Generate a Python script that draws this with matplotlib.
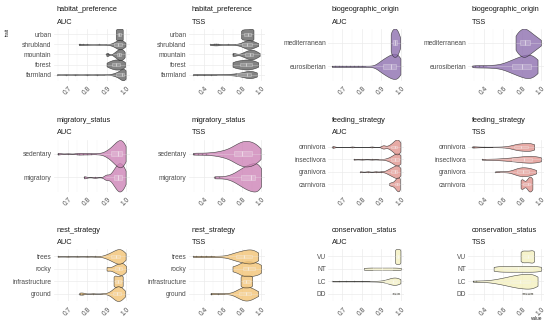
import numpy as np
import matplotlib
matplotlib.use("Agg")
import matplotlib.pyplot as plt
from matplotlib.colors import to_rgba

# -------------------------------------------------------------------------
# Data: per panel, category -> (values, counts)
# -------------------------------------------------------------------------
HABITAT_AUC = {
    "urban":     ([0.948, 0.957, 0.966, 0.975, 0.983], [7, 7, 7, 7, 7]),
    "shrubland": ([0.757, 0.765, 0.78, 0.80, 0.86, 0.90, 0.92, 0.93, 0.94, 0.95, 0.96, 0.97, 0.98, 0.99, 0.997],
                  [1, 1, 1, 1, 1, 1, 1, 2, 3, 5, 7, 8, 7, 4, 1]),
    "mountain":  ([0.899, 0.907, 0.935, 0.945, 0.955, 0.965, 0.975, 0.985, 0.993],
                  [2, 2, 2, 4, 6, 8, 8, 6, 3]),
    "forest":    ([0.90, 0.91, 0.92, 0.93, 0.94, 0.95, 0.96, 0.97, 0.98, 0.99, 0.995],
                  [3, 4, 5, 6, 7, 7, 7, 7, 6, 4, 2]),
    "farmland":  ([0.645, 0.69, 0.74, 0.80, 0.85, 0.89, 0.92, 0.93, 0.94, 0.95, 0.96, 0.97, 0.98, 0.99, 0.998],
                  [1, 1, 1, 1, 1, 1, 1, 1, 2, 3, 4, 6, 9, 10, 6]),
}
HABITAT_TSS = {
    "urban":     ([0.79, 0.81, 0.83, 0.85, 0.87, 0.89, 0.905, 0.92], [4, 4, 4, 4, 4, 4, 4, 4]),
    "shrubland": ([0.464, 0.51, 0.53, 0.55, 0.65, 0.74, 0.78, 0.80, 0.825, 0.85, 0.875, 0.90, 0.925, 0.95, 0.97],
                  [1, 1, 1, 1, 1, 1, 1, 2, 3, 5, 5, 4, 3, 2, 1]),
    "mountain":  ([0.70, 0.715, 0.73, 0.79, 0.81, 0.835, 0.86, 0.885, 0.91, 0.935, 0.96, 0.985],
                  [2, 1, 1, 1, 2, 3, 4, 5, 5, 4, 3, 1]),
    "forest":    ([0.70, 0.725, 0.75, 0.775, 0.80, 0.825, 0.85, 0.875, 0.90, 0.925, 0.95, 0.97],
                  [3, 3, 4, 4, 4, 5, 5, 5, 4, 4, 3, 2]),
    "farmland":  ([0.285, 0.33, 0.40, 0.47, 0.54, 0.60, 0.65, 0.70, 0.73, 0.76, 0.79, 0.82, 0.85, 0.88, 0.91, 0.94, 0.955],
                  [1, 1, 1, 1, 1, 1, 1, 1, 1, 2, 2, 3, 4, 6, 5, 3, 1]),
}
BIOGEO_AUC = {
    "mediterranean": ([0.948, 0.955, 0.962, 0.969, 0.976, 0.983, 0.99, 0.997],
                      [6, 7, 8, 8, 8, 7, 5, 3]),
    "eurosiberian":  ([0.645, 0.66, 0.68, 0.70, 0.72, 0.74, 0.76, 0.78, 0.80, 0.82, 0.84, 0.86,
                       0.88, 0.89, 0.90, 0.91, 0.92, 0.93, 0.94, 0.95, 0.96, 0.97, 0.98, 0.99, 0.998],
                      [1, 1, 1, 1, 1, 1, 1, 1, 1, 1, 1, 1,
                       3, 4, 5, 6, 7, 8, 9, 10, 10, 11, 11, 10, 8]),
}
BIOGEO_TSS = {
    "mediterranean": ([0.734, 0.76, 0.785, 0.81, 0.835, 0.86, 0.885, 0.91, 0.935, 0.96, 0.985, 1.0],
                      [5, 6, 7, 8, 8, 7, 6, 5, 4, 3, 2, 1]),
    "eurosiberian":  ([0.28, 0.31, 0.35, 0.39, 0.43, 0.47, 0.50, 0.53, 0.56, 0.59, 0.62, 0.65,
                       0.675, 0.70, 0.725, 0.75, 0.775, 0.80, 0.825, 0.85, 0.875, 0.90, 0.925, 0.95, 0.965],
                      [1, 1, 1, 1, 1, 1, 1, 1, 1, 2, 2, 3,
                       3, 4, 4, 5, 5, 6, 6, 7, 7, 7, 6, 5, 4]),
}
MIGRATORY_AUC = {
    "sedentary": ([0.648, 0.652, 0.70, 0.75, 0.76, 0.78, 0.80, 0.82, 0.85, 0.87,
                   0.89, 0.90, 0.91, 0.92, 0.93, 0.94, 0.95, 0.96, 0.97, 0.98, 0.99, 0.998],
                  [1, 1, 1, 1, 1, 1, 1, 1, 1, 1,
                   2, 2, 3, 4, 5, 7, 8, 9, 10, 10, 8, 5]),
    "migratory": ([0.784, 0.786, 0.84, 0.895, 0.90, 0.905, 0.92, 0.93, 0.94, 0.95, 0.96, 0.97, 0.98, 0.99, 0.998],
                  [1, 1, 1, 2, 2, 1, 2, 4, 6, 8, 10, 10, 9, 7, 4]),
}
MIGRATORY_TSS = {
    "sedentary": ([0.285, 0.30, 0.34, 0.38, 0.42, 0.45, 0.475, 0.50, 0.525, 0.55, 0.575, 0.60, 0.625,
                   0.65, 0.675, 0.70, 0.725, 0.75, 0.775, 0.80, 0.825, 0.85, 0.875, 0.90, 0.925,
                   0.95, 0.975, 0.995],
                  [1, 1, 1, 1, 1, 1, 1, 1, 1, 2, 2, 2, 3,
                   3, 4, 5, 6, 7, 8, 9, 9, 9, 9, 8, 8,
                   7, 6, 3]),
    "migratory": ([0.51, 0.515, 0.56, 0.60, 0.63, 0.66, 0.69, 0.715, 0.74, 0.765, 0.79, 0.815, 0.84,
                   0.865, 0.89, 0.915, 0.94, 0.965, 0.985, 1.0],
                  [1, 1, 1, 1, 1, 2, 2, 3, 4, 5, 6, 7, 8, 9, 9, 10, 10, 9, 8, 6]),
}
FEEDING_AUC = {
    "omnivora":    ([0.648, 0.652, 0.75, 0.85, 0.905, 0.91, 0.915, 0.93, 0.94, 0.95, 0.96, 0.97, 0.98, 0.99, 0.998],
                    [1, 1, 1, 1, 1, 2, 1, 1, 2, 3, 5, 7, 8, 7, 4]),
    "insectivora": ([0.757, 0.80, 0.85, 0.89, 0.92, 0.93, 0.94, 0.95, 0.96, 0.97, 0.98, 0.99, 0.998],
                    [1, 1, 1, 1, 1, 1, 2, 3, 4, 6, 7, 7, 4]),
    "granivora":   ([0.79, 0.83, 0.87, 0.90, 0.92, 0.93, 0.94, 0.95, 0.96, 0.97, 0.98, 0.99, 0.998],
                    [1, 1, 1, 1, 1, 2, 3, 4, 5, 6, 7, 6, 3]),
    "carnivora":   ([0.94, 0.95, 0.96, 0.97, 0.98, 0.99, 0.995], [1, 2, 2, 4, 7, 7, 3]),
}
FEEDING_TSS = {
    "omnivora":    ([0.28, 0.29, 0.30, 0.40, 0.50, 0.58, 0.63, 0.66, 0.69, 0.72, 0.745, 0.77, 0.795,
                     0.82, 0.845, 0.87, 0.895, 0.92, 0.93],
                    [1, 1, 1, 1, 1, 1, 1, 1, 2, 3, 4, 4, 4, 4, 4, 5, 5, 4, 2]),
    "insectivora": ([0.38, 0.42, 0.46, 0.50, 0.54, 0.58, 0.62, 0.66, 0.70, 0.74, 0.78, 0.82, 0.86,
                     0.90, 0.94, 0.97, 1.0],
                    [1, 1, 1, 1, 1, 2, 2, 3, 3, 4, 5, 6, 6, 6, 6, 5, 3]),
    "granivora":   ([0.52, 0.57, 0.62, 0.66, 0.70, 0.725, 0.75, 0.775, 0.80, 0.825, 0.85, 0.875,
                     0.90, 0.925, 0.95],
                    [1, 1, 1, 1, 2, 3, 4, 5, 5, 5, 5, 4, 4, 3, 2]),
    "carnivora":   ([0.787, 0.795, 0.805, 0.815, 0.83, 0.85, 0.865, 0.875, 0.89, 0.905, 0.911],
                    [3, 3, 3, 2, 1, 2, 4, 5, 5, 4, 3]),
}
NEST_AUC = {
    "trees":          ([0.648, 0.70, 0.75, 0.80, 0.84, 0.87, 0.89, 0.90, 0.91, 0.92, 0.93, 0.94, 0.95,
                        0.96, 0.97, 0.98, 0.99, 0.998],
                       [1, 1, 1, 1, 1, 1, 2, 2, 3, 4, 5, 6, 7, 8, 8, 7, 5, 3]),
    "rocky":          ([0.90, 0.905, 0.91, 0.925, 0.935, 0.945, 0.955, 0.965, 0.975, 0.985, 0.995, 1.0],
                       [2, 2, 1, 2, 3, 4, 5, 6, 7, 6, 4, 1]),
    "infrastructure": ([0.936, 0.944, 0.952, 0.96, 0.968, 0.976, 0.983], [5, 5, 4, 4, 4, 5, 5]),
    "ground":         ([0.76, 0.765, 0.775, 0.78, 0.83, 0.88, 0.905, 0.915, 0.925, 0.935, 0.945, 0.955,
                        0.965, 0.975, 0.985, 0.995],
                       [1, 1, 1, 1, 1, 1, 1, 2, 3, 5, 7, 8, 8, 7, 5, 3]),
}
NEST_TSS = {
    "trees":          ([0.285, 0.32, 0.37, 0.42, 0.47, 0.52, 0.57, 0.61, 0.65, 0.675, 0.70, 0.725, 0.75,
                        0.775, 0.80, 0.825, 0.85, 0.875, 0.90, 0.925, 0.95, 0.97],
                       [1, 1, 1, 1, 1, 1, 1, 1, 1, 2, 3, 3, 4, 4, 5, 5, 6, 6, 6, 6, 5, 3]),
    "rocky":          ([0.70, 0.715, 0.73, 0.76, 0.785, 0.81, 0.835, 0.86, 0.885, 0.91, 0.935, 0.96, 0.985, 1.0],
                       [3, 2, 1, 4, 5, 6, 6, 6, 6, 6, 5, 5, 4, 3]),
    "infrastructure": ([0.785, 0.805, 0.825, 0.845, 0.865, 0.885, 0.907], [4, 4, 4, 4, 4, 4, 4]),
    "ground":         ([0.47, 0.475, 0.55, 0.62, 0.68, 0.72, 0.745, 0.77, 0.795, 0.82, 0.845, 0.87,
                        0.895, 0.92, 0.945, 0.97],
                       [1, 1, 1, 1, 1, 2, 3, 4, 5, 6, 6, 6, 5, 4, 3, 2]),
}
CONSERV_AUC = {
    "VU": ([0.97, 0.977, 0.984, 0.991, 0.998], [6, 6, 6, 6, 6]),
    "NT": ([0.81, 0.837, 0.864, 0.891, 0.919, 0.946, 0.973, 1.0], [4, 4, 4, 4, 4, 4, 4, 4]),
    "LC": ([0.648, 0.68, 0.72, 0.76, 0.80, 0.84, 0.87, 0.89, 0.91, 0.92, 0.93, 0.94, 0.95, 0.96,
            0.97, 0.98, 0.99, 0.998],
           [1, 1, 1, 1, 1, 1, 1, 1, 1, 2, 2, 3, 4, 5, 5, 5, 4, 2]),
    "DD": ([0.957, 0.991], [1, 1]),
}
CONSERV_TSS = {
    "VU": ([0.787, 0.81, 0.835, 0.86, 0.885, 0.91, 0.929], [5, 5, 5, 5, 5, 5, 5]),
    "NT": ([0.504, 0.555, 0.605, 0.655, 0.705, 0.755, 0.805, 0.855, 0.905, 0.955, 1.0],
           [5, 5, 5, 5, 5, 5, 5, 5, 5, 5, 5]),
    "LC": ([0.285, 0.32, 0.36, 0.40, 0.44, 0.47, 0.50, 0.53, 0.56, 0.59, 0.62, 0.65, 0.68, 0.71,
            0.74, 0.77, 0.80, 0.83, 0.86, 0.89, 0.92, 0.945, 0.965],
           [1, 1, 1, 1, 1, 1, 2, 2, 3, 3, 4, 5, 5, 6, 7, 7, 7, 8, 8, 8, 7, 7, 5]),
    "DD": ([0.805, 0.911], [1, 1]),
}

AUC_TICKS = [0.7, 0.8, 0.9, 1.0]
TSS_TICKS = [0.4, 0.6, 0.8, 1.0]

COLORS = {
    "habitat_preference":   "#646464",
    "biogeographic_origin": "#8e6fb0",
    "migratory_status":     "#cd83b7",
    "feeding_strategy":     "#e2958f",
    "nest_strategy":        "#f3c374",
    "conservation_status":  "#f4f0be",
}

PANELS = [
    ("habitat_preference", "AUC", HABITAT_AUC), ("habitat_preference", "TSS", HABITAT_TSS),
    ("biogeographic_origin", "AUC", BIOGEO_AUC), ("biogeographic_origin", "TSS", BIOGEO_TSS),
    ("migratory_status", "AUC", MIGRATORY_AUC), ("migratory_status", "TSS", MIGRATORY_TSS),
    ("feeding_strategy", "AUC", FEEDING_AUC), ("feeding_strategy", "TSS", FEEDING_TSS),
    ("nest_strategy", "AUC", NEST_AUC), ("nest_strategy", "TSS", NEST_TSS),
    ("conservation_status", "AUC", CONSERV_AUC), ("conservation_status", "TSS", CONSERV_TSS),
]

# -------------------------------------------------------------------------
# Layout (pixels)
# -------------------------------------------------------------------------
W_PX, H_PX = 550, 327
COL_LEFT = [53.5, 188.5, 328.3, 468.3]
ROW_TOP = [28.5, 139.5, 249.0]
PANEL_W, PANEL_H = 76.0, 52.0
HALF = 0.6       # max violin half-width (category units)
BOX_W = 0.22

plt.rcParams["font.family"] = ["Liberation Sans", "DejaVu Sans"]


def nrd0(x):
    sd = np.std(x, ddof=1)
    q75, q25 = np.percentile(x, [75, 25])
    lo = min(sd, (q75 - q25) / 1.34)
    if lo <= 0:
        lo = sd if sd > 0 else 0.01
    return 0.9 * lo * len(x) ** -0.2


def kde(vals, counts):
    x = np.repeat(np.asarray(vals, float), counts)
    bw = nrd0(x)
    grid = np.linspace(x.min(), x.max(), 300)
    z = (grid[:, None] - x[None, :]) / bw
    dens = np.exp(-0.5 * z ** 2).sum(axis=1) / (len(x) * bw * np.sqrt(2 * np.pi))
    return x, grid, dens


def draw_panel(ax, data, color, metric):
    cats = sorted(data)
    prof = [kde(*data[c]) for c in cats]
    # width scaled by count x density, largest one in the panel gets HALF
    peak = max(len(x) * d.max() for x, g, d in prof)
    face = to_rgba(color, 0.8)
    for i, (x, g, d) in enumerate(prof, start=1):
        w = len(x) * d / peak * HALF
        ax.fill_between(g, i - w, i + w, facecolor=face,
                        edgecolor=(0.15, 0.15, 0.15, 0.85), lw=0.4, zorder=2)
        ax.boxplot(x, positions=[i], orientation="horizontal", widths=BOX_W,
                   patch_artist=True, showcaps=False, manage_ticks=False,
                   boxprops=dict(facecolor=(1, 1, 1, 0.2), edgecolor=(0.95, 0.95, 0.95, 0.5), lw=0.4),
                   medianprops=dict(color=(1, 1, 1, 0.7), lw=0.5),
                   whiskerprops=dict(color=(0.95, 0.95, 0.95, 0.5), lw=0.4),
                   flierprops=dict(marker="o", markersize=1.1, markerfacecolor="#333333",
                                   markeredgecolor="none", alpha=0.35),
                   zorder=3)

    if metric == "AUC":
        ticks, lims = AUC_TICKS, (0.627, 1.018)
    else:
        ticks, lims = TSS_TICKS, (0.238, 1.036)
    ax.set_xlim(*lims)
    ax.set_ylim(0.4, len(cats) + 0.6)
    ax.set_xticks(ticks)
    ax.set_xticklabels([f"{t:.1f}" for t in ticks], rotation=45, ha="center", va="top")
    step = ticks[1] - ticks[0]
    ax.set_xticks([t - step / 2 for t in ticks], minor=True)
    ax.set_yticks(range(1, len(cats) + 1))
    ax.set_yticklabels(cats)
    ax.tick_params(axis="both", which="both", length=0, labelsize=4.8, colors="#4d4d4d")
    ax.tick_params(axis="x", pad=3.5)
    ax.tick_params(axis="y", pad=1.5)
    ax.grid(True, which="major", color="#ebebeb", lw=0.5)
    ax.grid(True, which="minor", axis="x", color="#f3f3f3", lw=0.3)
    ax.set_axisbelow(True)
    for s in ax.spines.values():
        s.set_visible(False)


def main():
    fig = plt.figure(figsize=(W_PX / 100, H_PX / 100), dpi=100)
    fig.patch.set_facecolor("white")

    for k, (trait, metric, data) in enumerate(PANELS):
        r, c = divmod(k, 4)
        left, top = COL_LEFT[c], ROW_TOP[r]
        ax = fig.add_axes([left / W_PX, 1 - (top + PANEL_H) / H_PX,
                           PANEL_W / W_PX, PANEL_H / H_PX])
        draw_panel(ax, data, COLORS[trait], metric)
        fig.text((left + 3.3) / W_PX, 1 - (top - 19) / H_PX, trait,
                 ha="left", va="center", fontsize=5.3, color="#1a1a1a")
        fig.text((left + 3.3) / W_PX, 1 - (top - 6.5) / H_PX, metric,
                 ha="left", va="center", fontsize=5.3, color="#1a1a1a")

    fig.text(7 / W_PX, 1 - 32 / H_PX, "trait", rotation=90,
             ha="center", va="center", fontsize=3.4, color="#1a1a1a")
    fig.text(537 / W_PX, 1 - 318 / H_PX, "value",
             ha="center", va="center", fontsize=3.4, color="#1a1a1a")

    fig.savefig("out.png", dpi=100)
    plt.close(fig)


if __name__ == "__main__":
    main()
